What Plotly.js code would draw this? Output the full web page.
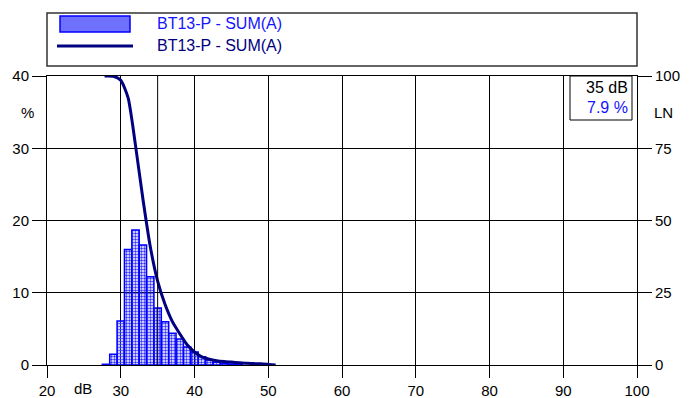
<!DOCTYPE html>
<html>
<head>
<meta charset="utf-8">
<script src="https://cdn.plot.ly/plotly-3.0.1.min.js"></script>
<style>html,body{margin:0;padding:0;background:#fff}#chart{width:695px;height:398px}</style>
</head>
<body>
<div id="chart"></div>
<script>
// Distribution (bars, % per 1 dB class)
var levels = [28, 29, 30, 31, 32, 33, 34, 35, 36, 37, 38, 39, 40, 41, 42, 43, 44, 45, 46];
var percent = [0.1, 1.5, 6.1, 16.0, 18.7, 16.6, 12.2, 7.9, 6.0, 4.4, 3.6, 2.5, 1.8, 1.15, 0.7, 0.37, 0.25, 0.15, 0.1];
// Cumulative exceedance curve LN (right axis)
var lnLevels = [27.8, 29, 30, 31, 32, 33, 34, 35, 36, 37, 38, 39, 40, 41, 42, 43, 44, 45, 46, 47, 48, 49, 50, 51];
var lnValues = [100, 99.9, 98.5, 92.4, 76, 57.5, 41, 29, 21, 15, 10.8, 7, 4.5, 2.8, 2.0, 1.5, 1.2, 1.0, 0.8, 0.6, 0.5, 0.4, 0.2, 0];
var seriesName = "BT13-P - SUM(A)";
var xTicks = [20, 30, 40, 50, 60, 70, 80, 90, 100];
var yTicks = [0, 10, 20, 30, 40];
var y2Ticks = [0, 25, 50, 75, 100];
var cursorLevel = 35;
var cursorText = ["35 dB", "7.9 %"];

var FONT = "Liberation Sans, Arial, Helvetica, sans-serif";

var bars = {
  type: "bar", x: levels, y: percent, width: 1, name: seriesName,
  marker: {
    color: "#a8a8ff",
    line: {color: "#0000ff", width: 1.5},
    pattern: {shape: ".", fgcolor: "#3030ff", size: 3, solidity: 0.5}
  },
  hoverinfo: "skip", showlegend: false
};
var curve = {
  type: "scatter", mode: "lines", x: lnLevels, y: lnValues, yaxis: "y2", name: seriesName,
  line: {color: "#000080", width: 3, shape: "spline", smoothing: 0.6},
  hoverinfo: "skip", showlegend: false
};

function px2x(px) { return (px - 47) / 590; }
function py2y(py) { return (365 - py) / 289; }

var layout = {
  width: 695, height: 398,
  margin: {l: 47, r: 58, t: 76, b: 33, pad: 0},
  paper_bgcolor: "#fff", plot_bgcolor: "#fff",
  font: {family: FONT, size: 15, color: "#000"},
  showlegend: false,
  bargap: 0,
  xaxis: {
    range: [20, 100], tickvals: xTicks, ticktext: xTicks.map(String),
    ticks: "outside", ticklen: 12, tickcolor: "#000", tickwidth: 1,
    showline: true, linecolor: "#000", linewidth: 1, mirror: true,
    showgrid: true, gridcolor: "#000", gridwidth: 1, zeroline: false,
    tickfont: {family: FONT, size: 15, color: "#000"}, fixedrange: true
  },
  yaxis: {
    range: [0, 40], tickvals: yTicks, ticktext: yTicks.map(String),
    ticks: "outside", ticklen: 14, tickcolor: "#000", tickwidth: 1,
    showline: true, linecolor: "#000", linewidth: 1, mirror: true,
    showgrid: true, gridcolor: "#000", gridwidth: 1, zeroline: false,
    tickfont: {family: FONT, size: 15, color: "#000"}, fixedrange: true
  },
  yaxis2: {
    range: [0, 100], tickvals: y2Ticks, ticktext: y2Ticks.map(String),
    overlaying: "y", side: "right",
    ticks: "outside", ticklen: 14, tickcolor: "#000", tickwidth: 1,
    showline: false, showgrid: false, zeroline: false,
    tickfont: {family: FONT, size: 15, color: "#000"}, fixedrange: true
  },
  shapes: [
    {type: "line", xref: "x", yref: "paper", x0: cursorLevel, x1: cursorLevel, y0: 0, y1: 1,
     line: {color: "#000", width: 1}},
    {type: "rect", xref: "paper", yref: "paper", x0: px2x(570), x1: px2x(632), y0: py2y(120), y1: 1,
     line: {color: "#000", width: 1}, fillcolor: "#fff"},
    {type: "rect", xref: "paper", yref: "paper", x0: 0, x1: 1, y0: py2y(66), y1: py2y(13),
     line: {color: "#333", width: 1.5}, fillcolor: "rgba(0,0,0,0)"},
    {type: "rect", xref: "paper", yref: "paper", x0: px2x(60), x1: px2x(130), y0: py2y(32), y1: py2y(16),
     line: {color: "#0000ff", width: 1.5}, fillcolor: "#7070ff"},
    {type: "line", xref: "paper", yref: "paper", x0: px2x(57), x1: px2x(133), y0: py2y(46), y1: py2y(46),
     line: {color: "#000080", width: 3}}
  ],
  annotations: [
    {xref: "paper", yref: "paper", x: px2x(155), y: py2y(24), xanchor: "left", yanchor: "middle",
     text: seriesName, showarrow: false, font: {family: FONT, size: 16, color: "#1414ff"}},
    {xref: "paper", yref: "paper", x: px2x(155), y: py2y(46), xanchor: "left", yanchor: "middle",
     text: seriesName, showarrow: false, font: {family: FONT, size: 16, color: "#000080"}},
    {xref: "paper", yref: "paper", x: px2x(630), y: py2y(88), xanchor: "right", yanchor: "middle",
     text: cursorText[0], showarrow: false, font: {family: FONT, size: 16, color: "#000"}},
    {xref: "paper", yref: "paper", x: px2x(630), y: py2y(107), xanchor: "right", yanchor: "middle",
     text: cursorText[1], showarrow: false, font: {family: FONT, size: 16, color: "#1414ff"}},
    {xref: "paper", yref: "paper", x: px2x(27), y: py2y(112), xanchor: "center", yanchor: "middle",
     text: "%", showarrow: false, font: {family: FONT, size: 15, color: "#000"}},
    {xref: "paper", yref: "paper", x: px2x(663), y: py2y(112), xanchor: "center", yanchor: "middle",
     text: "LN", showarrow: false, font: {family: FONT, size: 15, color: "#000"}},
    {xref: "paper", yref: "paper", x: px2x(83), y: py2y(388), xanchor: "center", yanchor: "middle",
     text: "dB", showarrow: false, font: {family: FONT, size: 15, color: "#000"}}
  ]
};

Plotly.newPlot("chart", [bars, curve], layout, {staticPlot: true, displayModeBar: false});
</script>
</body>
</html>
